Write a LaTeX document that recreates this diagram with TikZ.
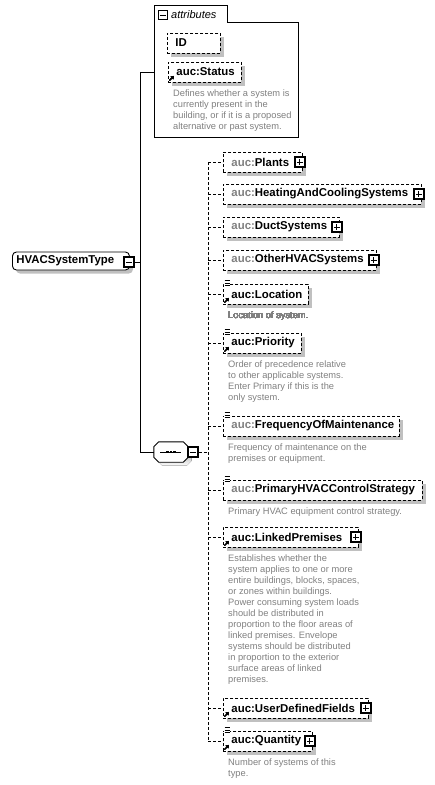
\documentclass[tikz,border=0pt]{standalone}
\usepackage{fontspec}
\setmainfont{Liberation Sans}
\usetikzlibrary{arrows.meta,shadows}
\definecolor{pfx}{RGB}{128,128,128}
\definecolor{doc}{RGB}{128,128,128}
\definecolor{shade}{RGB}{192,192,192}
\tikzstyle{shd}=[drop shadow={shadow xshift=3.5pt,shadow yshift=-3.5pt,fill=shade,opacity=1}]
\tikzstyle{elem}=[draw,line width=0.9pt,dash pattern=on 3pt off 2pt,fill=white,shd,minimum height=20pt,inner xsep=0pt,anchor=west,align=left,font=\fontsize{11.4}{13}\selectfont\bfseries]
\tikzstyle{ctype}=[draw,line width=0.9pt,fill=white,shd,rounded corners=4pt,minimum height=18pt,inner xsep=0pt,anchor=west,align=left,font=\fontsize{11.4}{13}\selectfont\bfseries]
\tikzstyle{seqbox}=[minimum width=34pt,minimum height=20pt,inner sep=0pt]
\tikzstyle{togg}=[draw,fill=white,line width=1.2pt,minimum size=10pt,inner sep=0pt]
\tikzstyle{plusbox}=[togg,path picture={\draw[line width=.9pt] ([xshift=-3pt]path picture bounding box.center) -- ([xshift=3pt]path picture bounding box.center) ([yshift=-3pt]path picture bounding box.center) -- ([yshift=3pt]path picture bounding box.center);}]
\tikzstyle{minusbox}=[togg,path picture={\draw[line width=.9pt] ([xshift=-3pt]path picture bounding box.center) -- ([xshift=3pt]path picture bounding box.center);}]
\tikzstyle{desc}=[anchor=north west,align=left,text=doc,inner sep=0pt,font=\fontsize{9.3}{11}\selectfont]
\tikzstyle{link}=[line width=0.9pt,dash pattern=on 3pt off 2pt]
\newcommand{\docmark}[1]{%
  \fill[white] ([xshift=0.5pt,yshift=-3pt]#1.north west) rectangle ++(6.5,-6.5);
  \draw[line width=.8pt] ([xshift=1.5pt,yshift=3pt]#1.north west) -- ++(5,0) ([xshift=1.5pt,yshift=0.5pt]#1.north west) -- ++(5,0) ([xshift=1.5pt,yshift=-2pt]#1.north west) -- ++(5,0);}
\newcommand{\refmark}[1]{%
  \draw[line width=1pt,-{Triangle[length=3pt,width=3.5pt]}] ([xshift=1.5pt,yshift=2pt]#1.south west) -- ++(4.5,-4.5);}
\newcommand{\octo}[1]{([xshift=5pt]#1.north west) -- ([xshift=-5pt]#1.north east) -- ([yshift=-5pt]#1.north east) -- ([yshift=5pt]#1.south east) -- ([xshift=-5pt]#1.south east) -- ([xshift=5pt]#1.south west) -- ([yshift=5pt]#1.south west) -- ([yshift=-5pt]#1.north west) -- cycle}

\begin{document}
\begin{tikzpicture}[x=1pt,y=-1pt]
    \useasboundingbox (0,0) rectangle (435,785);
    % First we draw the attributes frame and what sits in it
    \draw[line width=0.9pt,fill=white] (154,5) -- (227,5) -- (227,22) -- (298,22) -- (298,137) -- (154,137) -- cycle;
    \node[minusbox,minimum size=9pt,line width=1pt] (attrmin) at (163,15) {};
    \node[anchor=west,inner sep=0pt,font=\fontsize{11}{13}\selectfont\itshape] (attrtxt) at (171,15) {attributes};
    \coordinate (attr) at (154,72);
    \node[elem,text width=53pt] (id) at (167,43) {\hspace*{8pt}ID};
    \node[elem,text width=73pt] (status) at (168,72) {\hspace*{8pt}auc:Status};
    \node[desc] (status-doc) at ([xshift=5pt,yshift=-7pt]status.south west) {Defines whether a system is\\currently present in the\\building, or if it is a proposed\\alternative or past system.};
    % The type and its sequence
    \node[ctype,text width=117pt] (hvac) at (12,261) {\hspace*{4pt}HVACSystemType};
    \node[minusbox] (hvacmin) at (129,262) {};
    \coordinate (trunk) at (140,262);
    \node[seqbox] (seq) at (171,452) {};
    \begin{scope}[transform canvas={xshift=3.5pt,yshift=-3.5pt}]
        \fill[shade] \octo{seq};
    \end{scope}
    \draw[line width=0.9pt,fill=white] \octo{seq};
    \draw[line width=.8pt] ([xshift=-11pt]seq.center) -- ([xshift=10pt]seq.center);
    \foreach \dx in {-3.5,0,3.5}
        \fill ([xshift=\dx pt]seq.center) +(-1.3,-1.3) rectangle +(1.3,1.3);
    \node[minusbox] (seqmin) at (193,452) {};
    \coordinate (bus) at (208,452);
    % Then the child elements
    \foreach \y/\name/\w/\pf/\txt in {162/plants/79/pfx/Plants, 194/heating/198/pfx/HeatingAndCoolingSystems, 227/duct/116/pfx/DuctSystems, 260/other/153/pfx/OtherHVACSystems, 294/location/85/black/Location, 343/priority/78/black/Priority, 426/frequency/176/pfx/FrequencyOfMaintenance, 490/control/199/pfx/PrimaryHVACControlStrategy, 537/linked/135/black/LinkedPremises, 708/userdef/145/black/UserDefinedFields, 741/quantity/89/black/Quantity}
        \node[elem,text width=\w pt] (\name) at (223,\y) {\hspace*{8pt}{\color{\pf}auc:}\txt};
    \foreach \name in {plants,heating,duct,other,linked,userdef,quantity}
        \node[plusbox] (\name-plus) at ([xshift=-3pt]\name.east) {};
    \foreach \name in {location,priority,frequency,control,quantity}
        \docmark{\name}
    \foreach \name in {status,location,priority,linked,userdef,quantity}
        \refmark{\name}
    % Their documentation
    \node[desc] (location-doc) at ([xshift=5pt,yshift=-7pt]location.south west) {Location of system.};
    \node[desc] (priority-doc) at ([xshift=5pt,yshift=-7pt]priority.south west) {Order of precedence relative\\to other applicable systems.\\Enter Primary if this is the\\only system.};
    \node[desc] (frequency-doc) at ([xshift=5pt,yshift=-7pt]frequency.south west) {Frequency of maintenance on the\\premises or equipment.};
    \node[desc] (control-doc) at ([xshift=5pt,yshift=-7pt]control.south west) {Primary HVAC equipment control strategy.};
    \node[desc] (linked-doc) at ([xshift=5pt,yshift=-7pt]linked.south west) {Establishes whether the\\system applies to one or more\\entire buildings, blocks, spaces,\\or zones within buildings.\\Power consuming system loads\\should be distributed in\\proportion to the floor areas of\\linked premises. Envelope\\systems should be distributed\\in proportion to the exterior\\surface areas of linked\\premises.};
    \node[desc] (quantity-doc) at ([xshift=5pt,yshift=-7pt]quantity.south west) {Number of systems of this\\type.};
    % Connect everything
    \draw[line width=0.9pt] (hvacmin.east) -- (trunk);
    \draw[line width=0.9pt] (attr) -- (attr -| trunk) -- (seq.west -| trunk) -- (seq.west);
    \draw[link] (seqmin.east) -- (bus);
    \draw[link] (bus |- plants.west) -- (bus |- quantity.west);
    \foreach \name in {plants,heating,duct,other,location,priority,frequency,control,linked,userdef,quantity}
        \draw[link] (bus |- \name.west) -- (\name.west);
\end{tikzpicture}
\end{document}
